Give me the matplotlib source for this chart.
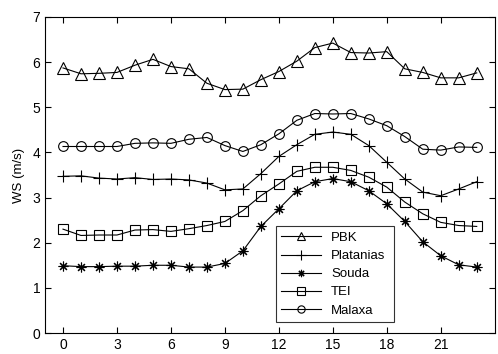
import numpy as np
import matplotlib
matplotlib.use("Agg")
import matplotlib.pyplot as plt

plt.rcParams['font.family'] = ['Liberation Sans', 'DejaVu Sans']

hours = list(range(24))
pbk = [5.87, 5.74, 5.75, 5.77, 5.93, 6.06, 5.9, 5.85, 5.53, 5.39, 5.4, 5.61,
       5.79, 6.02, 6.32, 6.42, 6.21, 6.2, 6.23, 5.85, 5.77, 5.65, 5.65, 5.76]
platanias = [3.47, 3.48, 3.43, 3.41, 3.44, 3.4, 3.41, 3.39, 3.32, 3.17, 3.19, 3.53,
             3.91, 4.17, 4.4, 4.45, 4.4, 4.15, 3.78, 3.41, 3.12, 3.04, 3.19, 3.35]
souda = [1.49, 1.47, 1.47, 1.48, 1.48, 1.5, 1.5, 1.46, 1.46, 1.54, 1.82, 2.36,
         2.75, 3.15, 3.35, 3.42, 3.35, 3.15, 2.86, 2.47, 2.02, 1.71, 1.51, 1.46]
tei = [2.3, 2.16, 2.17, 2.17, 2.28, 2.29, 2.25, 2.31, 2.38, 2.47, 2.71, 3.04,
       3.3, 3.58, 3.67, 3.67, 3.6, 3.45, 3.23, 2.9, 2.64, 2.45, 2.38, 2.36]
malaxa = [4.13, 4.13, 4.13, 4.13, 4.2, 4.21, 4.2, 4.29, 4.33, 4.15, 4.02, 4.17,
          4.41, 4.71, 4.86, 4.85, 4.86, 4.74, 4.59, 4.35, 4.07, 4.05, 4.12, 4.11]

fig = plt.figure(figsize=(4.98, 3.54), dpi=100)
ax = fig.add_axes([0.0904, 0.0593, 0.903, 0.893])

ax.plot(hours, pbk, 'k-^', mfc='none', ms=8, lw=0.8, mew=0.8, label='PBK')
ax.plot(hours, platanias, 'k-+', ms=9, lw=0.8, mew=0.8, label='Platanias')
ax.plot(hours, souda, 'k-', marker=(8, 2, 0), ms=7, lw=0.8, mew=0.8, label='Souda')
ax.plot(hours, tei, 'k-s', mfc='none', ms=7, lw=0.8, mew=0.8, label='TEI')
ax.plot(hours, malaxa, 'k-o', mfc='none', ms=7, lw=0.8, mew=0.8, label='Malaxa')

ax.set_xlim(-1, 24)
ax.set_ylim(0, 7)
ax.set_xticks(range(0, 24, 3))
ax.set_yticks(range(0, 8))
ax.tick_params(direction='in', top=True, right=True, labelsize=10, length=4)
ax.set_ylabel('WS (m/s)', fontsize=9.5, labelpad=5)

leg = ax.legend(loc='lower left', bbox_to_anchor=(0.513, 0.035, 0.264, 0.329),
                mode='expand', fontsize=9.5, fancybox=False, edgecolor='k',
                handlelength=3, borderaxespad=0, labelspacing=0.45,
                markerscale=0.75)
leg.get_frame().set_linewidth(0.8)

fig.savefig('out.png', dpi=100)
